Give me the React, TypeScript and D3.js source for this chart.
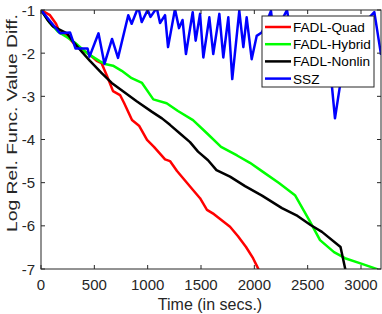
import React from 'react';
import * as d3 from 'd3';

// curve samples (time in secs, log rel. diff)
const quadT = [0, 84, 141, 178, 234, 319, 384, 441, 522, 567, 619, 675, 741, 778, 853, 919, 994, 1059, 1163, 1209, 1275, 1425, 1491, 1556, 1622, 1772, 1847, 1922, 1988, 2020, 2044];
const quadV = [-1, -1.12, -1.32, -1.53, -1.56, -1.81, -1.93, -2.0, -2.18, -2.23, -2.53, -2.88, -2.97, -3.15, -3.55, -3.68, -4.01, -4.17, -4.46, -4.5, -4.73, -5.17, -5.36, -5.63, -5.73, -6.02, -6.24, -6.49, -6.75, -6.91, -7.03];

const hybridT = [0, 84, 159, 244, 319, 431, 553, 600, 675, 757, 850, 947, 1053, 1178, 1284, 1425, 1553, 1688, 1838, 1959, 2081, 2231, 2381, 2513, 2616, 2747, 2850, 3009, 3159];
const hybridV = [-1, -1.3, -1.5, -1.63, -1.76, -2.0, -2.19, -2.25, -2.29, -2.41, -2.58, -2.69, -3.07, -3.16, -3.34, -3.55, -3.85, -4.17, -4.37, -4.54, -4.75, -5.01, -5.29, -5.86, -6.33, -6.61, -6.75, -6.88, -7.01];

const nonlinT = [0, 61, 112, 178, 244, 300, 380, 459, 569, 663, 772, 900, 1041, 1134, 1209, 1303, 1397, 1472, 1566, 1645, 1772, 1913, 2072, 2259, 2405, 2527, 2634, 2808, 2855];
const nonlinV = [-1, -1.23, -1.38, -1.46, -1.54, -1.73, -1.96, -2.18, -2.46, -2.69, -2.89, -3.12, -3.36, -3.51, -3.66, -3.86, -4.06, -4.28, -4.48, -4.71, -4.86, -5.08, -5.3, -5.59, -5.77, -5.98, -6.14, -6.49, -7.03];

const sszT = [0, 178, 272, 323, 436, 455, 539, 595, 666, 722, 818, 850, 912, 944, 1000, 1027, 1085, 1116, 1163, 1191, 1256, 1294, 1327, 1359, 1422, 1450, 1491, 1522, 1578, 1615, 1672, 1709, 1756, 1793, 1859, 1897, 1928, 1975, 2022, 2069, 2100, 2156, 2194, 2259, 2306, 2353, 2409, 2466, 2522, 2578, 2634, 2691, 2728, 2756, 2797, 2850, 2916, 2991, 3056, 3125, 3188];
const sszV = [-1, -1.54, -1.52, -1.89, -1.89, -2.08, -1.54, -2.25, -1.67, -2.11, -1.12, -1.32, -0.93, -1.28, -1.0, -1.16, -0.95, -1.3, -1.12, -1.86, -0.98, -1.42, -1.23, -2.02, -1.05, -1.71, -1.09, -2.1, -1.17, -2.02, -1.09, -2.1, -1.17, -2.6, -1.02, -1.86, -1.17, -2.14, -1.6, -1.52, -1.37, -1.02, -1.81, -1.23, -1.0, -1.69, -1.19, -1.81, -1.23, -1.74, -1.28, -1.93, -2.78, -3.51, -2.85, -2.04, -1.46, -1.69, -1.23, -1.05, -2.04];

const xTicks = [0, 500, 1000, 1500, 2000, 2500, 3000];
const yTicks = [-7, -6, -5, -4, -3, -2, -1];

const seriesNames = ['FADL-Quad', 'FADL-Hybrid', 'FADL-Nonlin', 'SSZ'];
const seriesColors = ['#ff0000', '#00ff00', '#000000', '#0000ff'];

const width = 382;
const height = 314;
const margin = { top: 10, right: 1, bottom: 45, left: 41 };
const axisColor = '#262626';
const font = '"Liberation Sans", Arial, sans-serif';

export default function App() {
  const x = d3.scaleLinear().domain([0, 3187.5]).range([margin.left, width - margin.right]);
  const y = d3.scaleLinear().domain([-7, -1]).range([height - margin.bottom, margin.top]);

  const line = d3.line<[number, number]>()
    .x(d => x(d[0]))
    .y(d => y(d[1]));

  const series = [
    quadT.map((t, i) => [t, quadV[i]] as [number, number]),
    hybridT.map((t, i) => [t, hybridV[i]] as [number, number]),
    nonlinT.map((t, i) => [t, nonlinV[i]] as [number, number]),
    sszT.map((t, i) => [t, sszV[i]] as [number, number]),
  ];

  const x0 = x.range()[0], x1 = x.range()[1];
  const y0 = y.range()[0], y1 = y.range()[1];

  // legend box
  const lg = { x: 262, y: 16, w: 112, h: 71 };

  return (
    <svg width={width} height={height} style={{ position: 'absolute', left: 0, top: 0, background: '#fff' }}
      fontFamily={font}>
      <defs>
        <clipPath id="plot">
          <rect x={x0} y={y1} width={x1 - x0} height={y0 - y1} />
        </clipPath>
      </defs>

      <g clipPath="url(#plot)" fill="none" strokeWidth={2.5} strokeLinejoin="round">
        {series.map((s, i) => (
          <path key={i} d={line(s) || ''} stroke={seriesColors[i]} />
        ))}
      </g>

      {/* box + ticks */}
      <rect x={x0} y={y1} width={x1 - x0} height={y0 - y1} fill="none" stroke={axisColor} strokeWidth={1} />
      {xTicks.map(t => (
        <g key={t}>
          <line x1={x(t)} x2={x(t)} y1={y0} y2={y0 - 4} stroke={axisColor} />
          <line x1={x(t)} x2={x(t)} y1={y1} y2={y1 + 4} stroke={axisColor} />
          <text x={x(t)} y={y0 + 21} textAnchor="middle" fontSize={15} fill={axisColor}>{t}</text>
        </g>
      ))}
      {yTicks.map(t => (
        <g key={t}>
          <line x1={x0} x2={x0 + 4} y1={y(t)} y2={y(t)} stroke={axisColor} />
          <line x1={x1} x2={x1 - 4} y1={y(t)} y2={y(t)} stroke={axisColor} />
          <text x={x0 - 6} y={y(t) + 5.5} textAnchor="end" fontSize={15} fill={axisColor}>{t}</text>
        </g>
      ))}

      <text x={210} y={310} textAnchor="middle" fontSize={16} fill={axisColor}>Time (in secs.)</text>
      <text transform="translate(17, 123) rotate(-90)" textAnchor="middle" fontSize={15}
        textLength={218} lengthAdjust="spacingAndGlyphs" fill={axisColor}>
        Log Rel. Func. Value Diff.
      </text>

      {/* legend */}
      <rect x={lg.x} y={lg.y} width={lg.w} height={lg.h} fill="#fff" stroke={axisColor} strokeWidth={1} />
      {seriesNames.map((name, i) => {
        const ly = 27 + i * 17.2;
        return (
          <g key={name}>
            <line x1={265} x2={291} y1={ly} y2={ly} stroke={seriesColors[i]} strokeWidth={2.5} />
            <text x={293} y={ly + 5} fontSize={13.6} fill="#000">{name}</text>
          </g>
        );
      })}
    </svg>
  );
}
